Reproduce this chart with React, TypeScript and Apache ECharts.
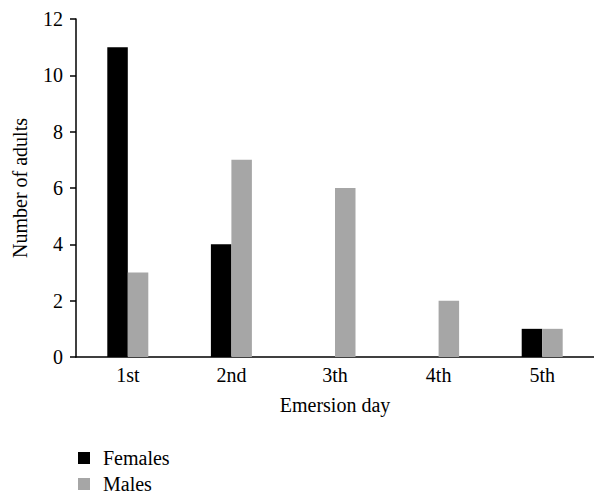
import React, { useEffect, useRef } from "react";
import * as echarts from "echarts";

const categories = ["1st", "2nd", "3th", "4th", "5th"];
const females = [11, 4, 0, 0, 1];
const males = [3, 7, 6, 2, 1];
const FONT = "Liberation Serif";
const FS = 20;

export default function App() {
  const ref = useRef<HTMLDivElement>(null);
  useEffect(() => {
    const chart = echarts.init(ref.current!, undefined, { renderer: "svg" });
    chart.setOption({
      animation: false,
      backgroundColor: "#ffffff",
      textStyle: { fontFamily: FONT, color: "#000" },
      grid: { left: 76, top: 19, width: 524, height: 338 },
      legend: {
        orient: "vertical",
        left: 78,
        top: 448,
        height: 60,
        padding: 0,
        itemWidth: 12,
        itemHeight: 12,
        itemGap: 6,
        icon: "rect",
        textStyle: { fontFamily: FONT, fontSize: FS, color: "#000", lineHeight: 18, padding: [0, 0, 0, 8] },
        data: ["Females", "Males"],
      },
      xAxis: {
        type: "category",
        data: categories,
        name: "Emersion day",
        nameLocation: "middle",
        nameGap: 38,
        nameTextStyle: { fontFamily: FONT, fontSize: FS, color: "#000" },
        axisLine: { lineStyle: { color: "#000", width: 1.5 } },
        axisTick: { show: false },
        axisLabel: { fontFamily: FONT, fontSize: FS, color: "#000", margin: 8 },
      },
      yAxis: {
        type: "value",
        min: 0,
        max: 12,
        interval: 2,
        name: "Number of adults",
        nameLocation: "middle",
        nameGap: 46,
        nameTextStyle: { fontFamily: FONT, fontSize: FS, color: "#000" },
        axisLine: { show: true, lineStyle: { color: "#000", width: 1.5 } },
        axisTick: { show: true, length: 6, lineStyle: { color: "#000", width: 1.5 } },
        axisLabel: { fontFamily: FONT, fontSize: FS, color: "#000", margin: 13 },
        splitLine: { show: false },
      },
      series: [
        {
          name: "Females",
          type: "bar",
          data: females,
          barWidth: 20.5,
          barGap: "0%",
          itemStyle: { color: "#000000" },
        },
        {
          name: "Males",
          type: "bar",
          data: males,
          barWidth: 20.5,
          barGap: "0%",
          itemStyle: { color: "#a6a6a6" },
        },
      ],
    });
    return () => chart.dispose();
  }, []);
  return (
    <div
      ref={ref}
      style={{ position: "fixed", left: 0, top: 0, width: 594, height: 494 }}
    />
  );
}
